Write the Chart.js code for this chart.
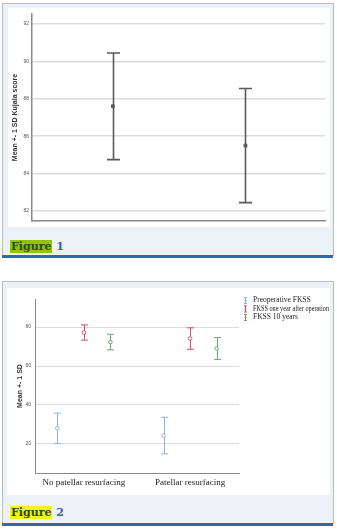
<!DOCTYPE html>
<html>
<head>
<meta charset="utf-8">
<script src="https://cdn.jsdelivr.net/npm/chart.js@4"></script>
<style>
  body { margin: 0; background: #fff; width: 337px; height: 529px; position: relative; overflow: hidden; }
  .panel { position: absolute; left: 2px; width: 330px; background: #edf1f8; border: 1px solid #b8bcc4; border-bottom: none; }
  .plot { position: absolute; background: #fff; }
  .plot canvas { display: block; }
  .blue { position: absolute; left: 2px; width: 331px; height: 3px; background: #2f6aa8; }
  .lab { position: absolute; left: 10px; font: bold 11px "DejaVu Serif", serif; line-height: 12px; }
  .lab span.fig { color: #2d4a12; padding: 0 1px; }
  .lab span.num { color: #3b5fb0; }
</style>
</head>
<body>
<div class="panel" style="top:3px;height:252px"></div>
<div class="plot" style="left:8px;top:8px;width:322px;height:219px"><canvas id="fig1" width="322" height="219"></canvas></div>
<div class="lab" style="top:241px"><span class="fig" style="background:#93c400">Figure</span> <span class="num">1</span></div>
<div class="blue" style="top:255px"></div>

<div class="panel" style="top:281px;height:242px"></div>
<div class="plot" style="left:7px;top:288px;width:323px;height:207px"><canvas id="fig2" width="323" height="207"></canvas></div>
<div class="lab" style="top:507px"><span class="fig" style="background:#f2f21c">Figure</span> <span class="num">2</span></div>
<div class="blue" style="top:523px"></div>

<script>
// Figure 1: Kujala score
const groups = ['No patellar resurfacing', 'Patellar resurfacing'];
const kujalaMean = [87.6, 85.5];
const kujalaSD = [2.85, 3.05];
const kujalaTicks = [82, 84, 86, 88, 90, 92];

// Figure 2: FKSS
const seriesNames = ['Preoperative FKSS', 'FKSS one year after operation', 'FKSS 10 years'];
const preopMean = [28.0, 24.3];
const preopSD = [7.8, 9.4];
const oneYearMean = [77.2, 74.1];
const oneYearSD = [3.9, 5.5];
const tenYearMean = [72.3, 69.0];
const tenYearSD = [4.0, 5.6];
const fkssTicks = [20, 40, 60, 80];
const seriesColors = ['#8eb1da', '#d5506f', '#66a86a'];
const seriesOffset = [-0.25, 0, 0.25];

// draws mean +- sd whiskers using the chart scales
const errorBars = {
  id: 'errorBars',
  beforeDatasetsDraw(chart) {
    const {ctx, scales: {x, y}} = chart;
    chart.data.datasets.forEach(ds => {
      if (!ds.sd) return;
      ctx.save();
      ctx.strokeStyle = ds.borderColor;
      ctx.lineWidth = ds.whiskerWidth;
      ds.data.forEach((p, j) => {
        const px = Math.round(x.getPixelForValue(p.x)) + 0.5;
        const top = y.getPixelForValue(p.y + ds.sd[j]);
        const bot = y.getPixelForValue(p.y - ds.sd[j]);
        const w = ds.capWidth / 2;
        ctx.beginPath();
        ctx.moveTo(px, top); ctx.lineTo(px, bot);
        ctx.moveTo(px - w, top); ctx.lineTo(px + w, top);
        ctx.moveTo(px - w, bot); ctx.lineTo(px + w, bot);
        ctx.stroke();
      });
      ctx.restore();
    });
  }
};

// small legend to the right of the plot, with error-bar icons
const sideLegend = {
  id: 'sideLegend',
  afterDraw(chart) {
    const {ctx, chartArea} = chart;
    ctx.save();
    ctx.font = '7.5px "Liberation Serif"';
    ctx.fillStyle = '#222';
    ctx.textBaseline = 'middle';
    chart.data.datasets.forEach((ds, i) => {
      const y = chartArea.top + 1.5 + i * 8.5;
      const x = chartArea.right + 6.5;
      ctx.strokeStyle = ds.borderColor;
      ctx.lineWidth = 1;
      ctx.beginPath();
      ctx.moveTo(x, y - 3); ctx.lineTo(x, y + 3);
      ctx.moveTo(x - 1.5, y - 3); ctx.lineTo(x + 1.5, y - 3);
      ctx.moveTo(x - 1.5, y + 3); ctx.lineTo(x + 1.5, y + 3);
      ctx.moveTo(x - 1, y); ctx.lineTo(x + 1, y);
      ctx.stroke();
      ctx.fillText(ds.label, chartArea.right + 14, y, 76);
    });
    ctx.restore();
  }
};

new Chart(document.getElementById('fig1'), {
  type: 'scatter',
  data: {
    datasets: [{
      label: 'Kujala score',
      data: groups.map((g, i) => ({x: i + 1, y: kujalaMean[i]})),
      sd: kujalaSD,
      borderColor: '#5a5a5a',
      backgroundColor: '#5a5a5a',
      pointStyle: 'rect',
      pointRadius: 2,
      whiskerWidth: 1.6,
      capWidth: 13
    }]
  },
  options: {
    responsive: false,
    animation: false,
    layout: {padding: {top: 5, right: 5, bottom: 0, left: 0}},
    plugins: {legend: {display: false}, tooltip: {enabled: false}},
    scales: {
      x: {
        type: 'linear', min: 0.39, max: 2.6,
        grid: {display: false},
        border: {color: '#8a8a8a', width: 1.5},
        ticks: {display: false},
        afterFit: s => { s.height = 3; }
      },
      y: {
        min: 81.47, max: 92.53,
        afterBuildTicks: s => { s.ticks = kujalaTicks.map(v => ({value: v})); },
        grid: {color: '#dcdcdc', lineWidth: 1.5, drawTicks: false},
        border: {color: '#8a8a8a', width: 1.5},
        ticks: {font: {size: 5, family: 'Liberation Sans'}, color: '#555', padding: 3},
        title: {display: true, text: 'Mean +- 1 SD Kujala score', font: {size: 7, weight: 'bold', family: 'Liberation Sans'}, color: '#333', padding: {top: 3, bottom: 0}},
        afterFit: s => { s.width = 24; }
      }
    }
  },
  plugins: [errorBars]
});

const fkssMeans = [preopMean, oneYearMean, tenYearMean];
const fkssSDs = [preopSD, oneYearSD, tenYearSD];

new Chart(document.getElementById('fig2'), {
  type: 'scatter',
  data: {
    datasets: seriesNames.map((name, s) => ({
      label: name,
      data: groups.map((g, i) => ({x: i + 1 + seriesOffset[s], y: fkssMeans[s][i]})),
      sd: fkssSDs[s],
      borderColor: seriesColors[s],
      backgroundColor: '#fff',
      pointRadius: 1.8,
      pointBorderWidth: 1,
      whiskerWidth: 1,
      capWidth: 7
    }))
  },
  options: {
    responsive: false,
    animation: false,
    layout: {padding: {top: 11, right: 91, bottom: 0, left: 0}},
    plugins: {legend: {display: false}, tooltip: {enabled: false}},
    scales: {
      x: {
        type: 'linear', min: 0.54, max: 2.46,
        afterBuildTicks: s => { s.ticks = groups.map((g, i) => ({value: i + 1})); },
        grid: {display: false, drawTicks: false},
        border: {color: '#8a8a8a', width: 1},
        ticks: {callback: v => groups[v - 1], font: {size: 9, family: 'Liberation Serif'}, color: '#222', padding: 4, maxRotation: 0},
        afterFit: s => { s.height = 22; }
      },
      y: {
        min: 5.1, max: 94.4,
        afterBuildTicks: s => { s.ticks = fkssTicks.map(v => ({value: v})); },
        grid: {color: '#dcdcdc', lineWidth: 1, drawTicks: false},
        border: {color: '#8a8a8a', width: 1},
        ticks: {font: {size: 5, family: 'Liberation Sans'}, color: '#555', padding: 4},
        title: {display: true, text: 'Mean +- 1 SD', font: {size: 7, weight: 'bold', family: 'Liberation Sans'}, color: '#333', padding: {top: 9, bottom: 0}},
        afterFit: s => { s.width = 28; }
      }
    }
  },
  plugins: [errorBars, sideLegend]
});
</script>
</body>
</html>
